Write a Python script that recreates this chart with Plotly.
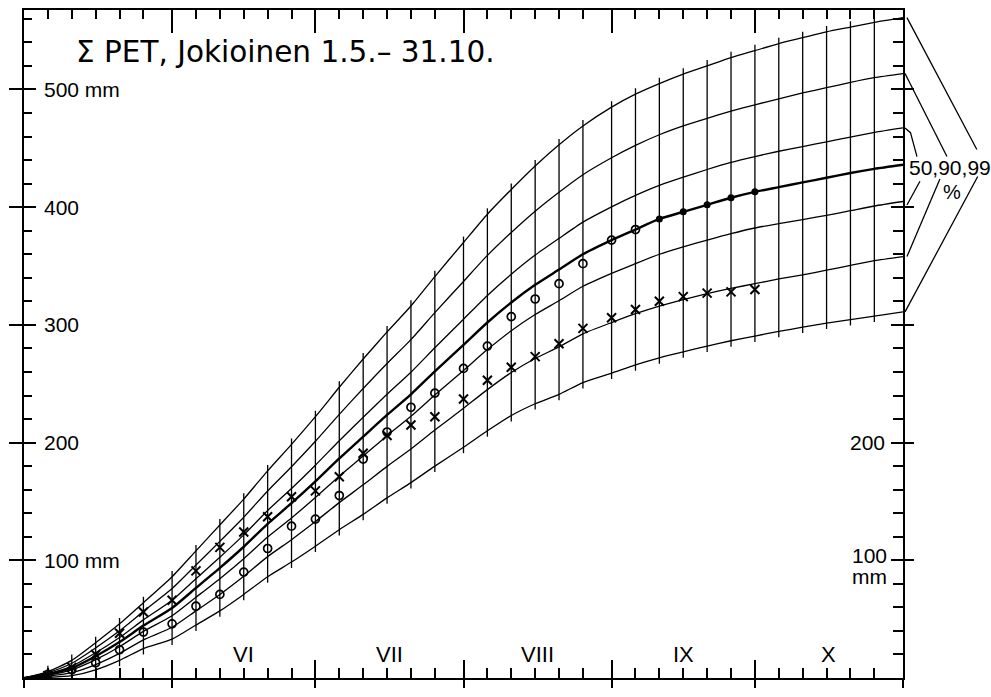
import plotly.graph_objects as go

# ---------------- data ----------------
# day offsets from 1 May at the pentad boundaries
days = [0, 5, 10, 15, 20, 25, 31, 36, 41, 46, 51, 56, 61, 66, 71, 76, 81, 86, 92,
        97, 102, 107, 112, 117, 123, 128, 133, 138, 143, 148, 153, 158, 163, 168,
        173, 178, 184]
month_starts = [0, 31, 61, 92, 123, 153, 184]
month_names = ["VI", "VII", "VIII", "IX", "X"]

# cumulative PET percentile curves, mm
top = [0, 5.5, 15, 30, 46, 64, 86, 108, 130, 152, 176, 198.5, 222, 247, 271, 294, 316, 341, 370, 394,
       415, 435, 453, 469, 485, 496, 505, 513, 520, 527, 533, 539, 544, 549, 553, 557, 561]
p95 = [0, 4.5, 12.5, 25.6, 40.1, 56.6, 76, 96, 116.1, 136.6, 158.9, 179.5, 201.1, 224, 245.9, 267.2,
       287.5, 310.4, 336.9, 359, 378.5, 396.6, 412.7, 427.6, 442, 452.5, 461.5, 469, 475.5, 481.5,
       487, 492, 497, 501.5, 506, 510, 513.5]
p75 = [0, 3.6, 10.1, 21.4, 34.4, 49.4, 66.1, 84.4, 102.6, 121.6, 142.3, 161, 180.8, 201.6, 221.5,
       241.1, 259.8, 280.6, 304.8, 325, 343, 359.3, 373.5, 387.3, 400.3, 410, 418.5, 425.5, 432,
       438, 443, 447.5, 451.5, 455.5, 459.5, 463.5, 467.3]
p50 = [0, 3, 8.5, 18.5, 30.5, 44.5, 59.5, 76.5, 93.5, 111.5, 131, 148.5, 167, 186.5, 205, 223.5, 241,
       260.5, 283, 302, 319, 334, 347, 360, 372, 381, 390, 396, 402, 408, 413, 417, 421, 425, 429,
       432.5, 436]
p25 = [0, 2.4, 6.9, 15.6, 26.6, 39.6, 52.9, 68.6, 84.4, 101.4, 119.8, 136, 153.3, 171.4, 188.5,
       205.9, 222.3, 240.4, 261.3, 279, 295, 308.8, 320.5, 332.8, 343.8, 352, 360, 366.3, 372,
       377.5, 382.3, 386, 389.5, 393, 397, 401, 404.8]
p5 = [0, 1.5, 4.5, 11.4, 20.9, 32.4, 43.1, 57, 70.9, 86.4, 103.1, 117.5, 132.9, 149, 164.1, 179.8,
      194.5, 210.6, 229.1, 245, 259.5, 271.4, 281.3, 292.4, 302, 309.5, 316, 321.5, 326.5, 331,
      335, 339, 342.5, 346.5, 350.5, 354.5, 358]
bot = [0, 0.5, 2, 7, 15, 25, 33, 45, 57, 71, 86, 98.5, 112, 126, 139, 153, 166, 180, 196, 210, 223,
       233, 241, 251, 259, 266, 272, 277, 282, 286.5, 290.5, 294.5, 298, 301.5, 304.5, 307.5, 311]

# observed years (through 30 Sept)
obs_days = days[1:31]
circ_vals = [3, 7, 13, 24, 39, 46, 61, 71, 90, 110, 129, 135, 155, 186, 209, 230, 242, 263, 282,
             307, 322, 335, 352, 372, 381, 390, 396, 402, 408, 413]
cross_vals = [2, 9, 20, 38, 56, 66, 91, 111, 124, 137, 154, 159, 171, 191, 206, 215, 222, 237, 253,
              264, 273, 284, 297, 306, 313, 320, 324, 327, 328, 330]
filled_from = 133

y_major = [0, 100, 200, 300, 400, 500]
y_minor = list(range(0, 561, 20))
left_labels = {500: "500 mm", 400: "400", 300: "300", 200: "200", 100: "100 mm"}

# ---------------- figure ----------------
YMAX = 567.5
FONT = "Liberation Sans"
fig = go.Figure()

curves = [top, p95, p75, p50, p25, p5, bot]
for c in curves:
    w = 2.4 if c is p50 else 1.3
    fig.add_trace(go.Scatter(x=days, y=c, mode="lines",
                             line=dict(color="black", width=w, shape="spline", smoothing=0.6),
                             hoverinfo="skip", showlegend=False))

# vertical grid lines at each pentad, spanning the band
vx, vy = [], []
for d, lo, hi in zip(days[1:-1], bot[1:-1], top[1:-1]):
    vx += [d, d, None]
    vy += [max(lo - 5, 0), hi + 5, None]
fig.add_trace(go.Scatter(x=vx, y=vy, mode="lines", line=dict(color="black", width=1.3),
                         hoverinfo="skip", showlegend=False))

# observations
open_x = [d for d in obs_days if d < filled_from]
open_y = [v for d, v in zip(obs_days, circ_vals) if d < filled_from]
fill_x = [d for d in obs_days if d >= filled_from]
fill_y = [v for d, v in zip(obs_days, circ_vals) if d >= filled_from]
fig.add_trace(go.Scatter(x=open_x, y=open_y, mode="markers",
                         marker=dict(symbol="circle-open", size=8, color="black", line=dict(width=1.7)),
                         showlegend=False))
fig.add_trace(go.Scatter(x=fill_x, y=fill_y, mode="markers",
                         marker=dict(symbol="circle", size=7, color="black"), showlegend=False))
fig.add_trace(go.Scatter(x=obs_days, y=cross_vals, mode="markers",
                         marker=dict(symbol="x-thin", size=9, color="black", line=dict(width=2, color="black")),
                         showlegend=False))

# dummy traces for tick-only overlay axes
for xa, ya in [("x2", "y"), ("x3", "y"), ("x", "y2"), ("x", "y3"), ("x", "y4")]:
    fig.add_trace(go.Scatter(x=[None], y=[None], xaxis=xa, yaxis=ya, showlegend=False, hoverinfo="skip"))

common = dict(showgrid=False, zeroline=False, showticklabels=False, tickcolor="black", fixedrange=True)
xr = [0, 184]
fig.update_layout(
    width=991, height=697, autosize=False,
    margin=dict(l=22, r=88, t=10, b=14),
    paper_bgcolor="white", plot_bgcolor="white",
    xaxis=dict(range=xr, tickmode="array", tickvals=month_starts, ticks="inside", ticklen=18, tickwidth=2,
               showline=True, linewidth=2, linecolor="black",
               minor=dict(tickmode="array", tickvals=days, ticks="inside", ticklen=10, tickwidth=1.5,
                          tickcolor="black", showgrid=False), **common),
    xaxis2=dict(range=xr, overlaying="x", side="bottom", anchor="y", tickmode="array", tickvals=month_starts,
                ticks="outside", ticklen=9, tickwidth=2, showline=False, **common),
    xaxis3=dict(range=xr, overlaying="x", side="top", anchor="y", tickmode="array", tickvals=month_starts,
                ticks="inside", ticklen=23, tickwidth=2, showline=True, linewidth=2, linecolor="black",
                minor=dict(tickmode="array", tickvals=days, ticks="inside", ticklen=9, tickwidth=1.5,
                           tickcolor="black", showgrid=False), **common),
    yaxis=dict(range=[0, YMAX], tickmode="array", tickvals=y_major, ticks="inside", ticklen=12, tickwidth=2,
               showline=True, linewidth=2, linecolor="black",
               minor=dict(tickmode="array", tickvals=y_minor, ticks="inside", ticklen=8, tickwidth=1.5,
                          tickcolor="black", showgrid=False), **common),
    yaxis2=dict(range=[0, YMAX], overlaying="y", side="left", anchor="x", tickmode="array",
                tickvals=y_major[1:], ticks="outside", ticklen=14, tickwidth=2, showline=False, **common),
    yaxis3=dict(range=[0, YMAX], overlaying="y", side="right", anchor="x", tickmode="array", tickvals=y_major,
                ticks="inside", ticklen=12, tickwidth=2, showline=True, linewidth=2, linecolor="black",
                minor=dict(tickmode="array", tickvals=y_minor, ticks="inside", ticklen=10, tickwidth=1.5,
                           tickcolor="black", showgrid=False), **common),
    yaxis4=dict(range=[0, YMAX], overlaying="y", side="right", anchor="x", tickmode="array",
                tickvals=y_major[1:], ticks="outside", ticklen=10, tickwidth=2, showline=False, **common),
)

ann = []
# title
ann.append(dict(text="Σ PET, Jokioinen 1.5.– 31.10.", xref="paper", yref="paper", x=0.057, y=0.9376,
                xanchor="left", yanchor="middle", showarrow=False,
                font=dict(family="DejaVu Sans", size=29.5, color="black")))
# left labels
for v, t in left_labels.items():
    ann.append(dict(text=t, xref="paper", yref="y", x=0, y=v, xanchor="left", yanchor="middle",
                    xshift=18, showarrow=False, font=dict(family=FONT, size=21, color="black")))
# right labels
ann.append(dict(text="200", xref="paper", yref="y", x=1, y=200, xanchor="right", yanchor="middle",
                xshift=-16, showarrow=False, font=dict(family=FONT, size=21, color="black")))
ann.append(dict(text="100", xref="paper", yref="y", x=1, y=104, xanchor="right", yanchor="middle",
                xshift=-14, showarrow=False, font=dict(family=FONT, size=21, color="black")))
ann.append(dict(text="mm", xref="paper", yref="y", x=1, y=86, xanchor="right", yanchor="middle",
                xshift=-14, showarrow=False, font=dict(family=FONT, size=21, color="black")))
# month labels
for i, name in enumerate(month_names):
    mid = (month_starts[i + 1] + month_starts[i + 2]) / 2
    ann.append(dict(text=name, xref="x", yref="paper", x=mid, y=0, yshift=24, xanchor="center",
                    yanchor="middle", showarrow=False, font=dict(family=FONT, size=22, color="black")))
# percentile bracket label
ann.append(dict(text="50,90,99", xref="paper", yref="y", x=1.053, y=434, xanchor="center", yanchor="middle",
                showarrow=False, font=dict(family=FONT, size=21, color="black")))
ann.append(dict(text="%", xref="paper", yref="y", x=1.056, y=413, xanchor="center", yanchor="middle",
                showarrow=False, font=dict(family=FONT, size=20, color="black")))
fig.update_layout(annotations=ann)

# bracket lines from curve ends to the label
ln = dict(color="black", width=1.3)
shapes = [
    dict(type="line", xref="paper", yref="y", x0=1.0045, y0=top[-1], x1=1.084, y1=449, line=ln),
    dict(type="line", xref="paper", yref="y", x0=1.0023, y0=p95[-1], x1=1.050, y1=443, line=ln),
    dict(type="path", xref="paper", yref="y",
         path=f"M 1.0023 {p75[-1]} L 1.0085 {p75[-1]-4} L 1.0159 443", line=ln),
    dict(type="line", xref="paper", yref="y", x0=1.0045, y0=p25[-1] - 3, x1=1.0193, y1=422, line=ln),
    dict(type="line", xref="paper", yref="y", x0=1.0045, y0=p5[-1], x1=1.042, y1=424, line=ln),
    dict(type="line", xref="paper", yref="y", x0=1.0023, y0=bot[-1], x1=1.085, y1=426, line=ln),
]
fig.update_layout(shapes=shapes)

fig.write_html("out.html")
